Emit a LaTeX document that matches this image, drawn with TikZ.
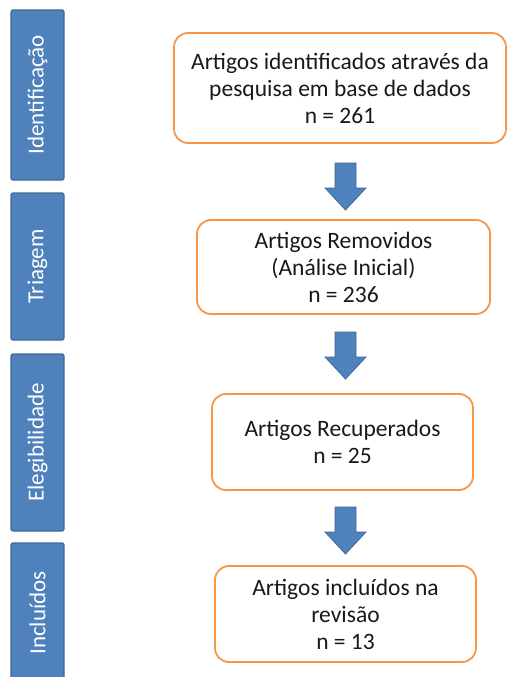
\documentclass[tikz,border=0pt]{standalone}
\usepackage{fontspec}
\setmainfont{Carlito}
\begin{document}
\begin{tikzpicture}[x=1pt,y=-1pt,
  sidebar/.style={draw=sidedark,fill=sideblue,line width=1.2pt,rounded corners=2pt,minimum width=53pt,inner sep=0pt},
  sidetext/.style={text=white,font=\fontsize{23}{27}\selectfont,rotate=90},
  flowbox/.style={draw=boxorange,fill=white,line width=1.8pt,rounded corners=14pt,align=center,font=\fontsize{23.5}{27}\selectfont,text=black!90},
  blockarrow/.style={fill=sideblue,draw=sidedark,line width=0.8pt}]
\definecolor{sideblue}{HTML}{4F81BD}
\definecolor{sidedark}{HTML}{3F6A98}
\definecolor{boxorange}{HTML}{F79646}
\useasboundingbox (0,0) rectangle (507,677);
% side bars
\node[sidebar,minimum height=170pt] (s1) at (37.5,95) {};
\node[sidebar,minimum height=147pt] (s2) at (37.5,266.5) {};
\node[sidebar,minimum height=177pt] (s3) at (37.5,442.5) {};
\node[sidebar,minimum height=140pt] (s4) at (37.5,613) {};
\node[sidetext] (t1) at (s1.center) {Identificação};
\node[sidetext] (t2) at (s2.center) {Triagem};
\node[sidetext] (t3) at (s3.center) {Elegibilidade};
\node[sidetext] (t4) at (s4.center) {Incluídos};
% boxes
\node[flowbox,minimum width=332pt,minimum height=110pt] (b1) at (340,88) {Artigos identificados através da\\pesquisa em base de dados\\n = 261};
\node[flowbox,minimum width=293pt,minimum height=94pt] (b2) at (343.5,267) {Artigos Removidos\\(Análise Inicial)\\n = 236};
\node[flowbox,minimum width=261pt,minimum height=96pt] (b3) at (342.5,442) {Artigos Recuperados\\n = 25};
\node[flowbox,minimum width=261pt,minimum height=96pt] (b4) at (345.5,614) {Artigos incluídos na\\revisão\\n = 13};
% block arrows
\foreach \t in {163,332,507}{
  \draw[blockarrow] (335,\t) -- (356,\t) -- (356,\t+25) -- (366,\t+25) -- (345.5,\t+47) -- (325,\t+25) -- (335,\t+25) -- cycle;
}
\end{tikzpicture}
\end{document}
